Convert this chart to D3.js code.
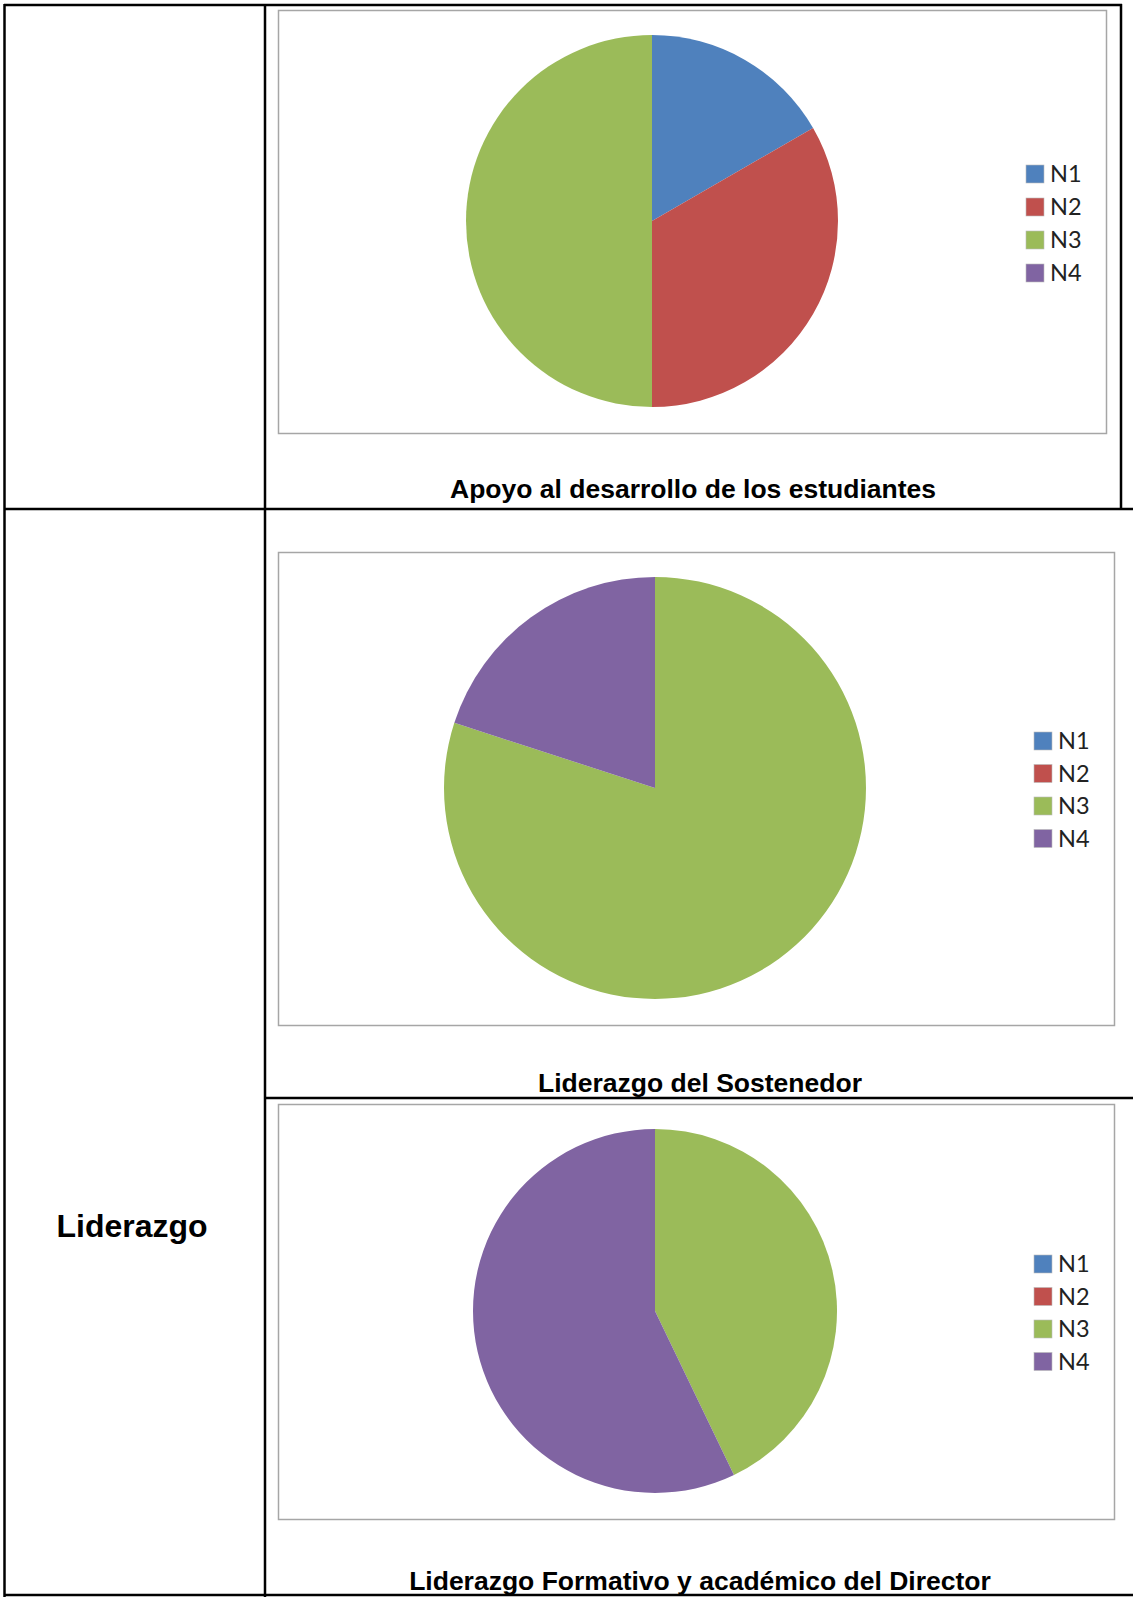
<!DOCTYPE html>
<html>
<head>
<meta charset="utf-8">
<title>Liderazgo</title>
<script src="https://cdn.jsdelivr.net/npm/d3@7"></script>
<style>
  html, body { margin: 0; padding: 0; background: #fff; }
  #chart_table { width: 1133px; height: 1598px; }
  .legend-label { font-family: Lato, 'Open Sans', sans-serif; font-size: 23.5px; fill: #222; }
  .cell-title { font-family: 'Liberation Sans', Arial, sans-serif; font-weight: bold; font-size: 26.5px; fill: #000; }
  .row-label { font-family: 'Liberation Sans', Arial, sans-serif; font-weight: bold; font-size: 32px; fill: #000; }
</style>
</head>
<body>
<div id="chart_table"></div>
<script>
const categories = ['N1', 'N2', 'N3', 'N4'];
const colors = ['#4F81BD', '#C0504D', '#9BBB59', '#8064A2'];

const apoyoValues = [1, 2, 3, 0];
const sostenedorValues = [0, 0, 4, 1];
const directorValues = [0, 0, 3, 4];

const titles = [
  'Apoyo al desarrollo de los estudiantes',
  'Liderazgo del Sostenedor',
  'Liderazgo Formativo y académico del Director',
];
const rowLabel = 'Liderazgo';

const main = () => {
  const svg = d3.select('#chart_table').append('svg')
    .attr('width', 1133)
    .attr('height', 1598)
    .attr('viewBox', '0 0 1133 1598')
  ;

  // chart panels
  const panels = [
    { values: apoyoValues, title: titles[0],
      box: { x: 278, y: 10, w: 828, h: 423 },
      cx: 652, cy: 221, r: 186,
      legend: { x: 1026, y: 165, step: 33 },
      titleX: 693, titleY: 498 },
    { values: sostenedorValues, title: titles[1],
      box: { x: 278, y: 552, w: 836, h: 473 },
      cx: 655, cy: 788, r: 211,
      legend: { x: 1034, y: 732, step: 32.5 },
      titleX: 700, titleY: 1092 },
    { values: directorValues, title: titles[2],
      box: { x: 278, y: 1104, w: 836, h: 415 },
      cx: 655, cy: 1311, r: 182,
      legend: { x: 1034, y: 1255, step: 32.5 },
      titleX: 700, titleY: 1590 },
  ];

  panels.forEach(p => drawPie(svg, p));
  drawTable(svg);
};

function drawPie(svg, p) {
  const g = svg.append('g').attr('class', 'panel');

  g.append('rect')
    .attr('x', p.box.x + 0.5)
    .attr('y', p.box.y + 0.5)
    .attr('width', p.box.w)
    .attr('height', p.box.h)
    .attr('fill', '#fff')
    .attr('stroke', '#a6a6a6')
    .attr('stroke-width', 1.5)
  ;

  const color = d3.scaleOrdinal()
    .domain(categories)
    .range(colors)
  ;

  const pie = d3.pie()
    .sort(null)
    .value(d => d.value)
  ;
  const arc = d3.arc()
    .innerRadius(0)
    .outerRadius(p.r)
  ;

  const data = categories.map((c, i) => ({ name: c, value: p.values[i] }));

  g.append('g')
    .attr('transform', `translate(${ p.cx },${ p.cy })`)
    .selectAll('path')
    .data(pie(data).filter(d => d.value > 0))
    .join('path')
    .attr('fill', d => color(d.data.name))
    .attr('d', arc)
  ;

  // legend
  const legendY = d3.scalePoint()
    .domain(categories)
    .range([p.legend.y, p.legend.y + p.legend.step * (categories.length - 1)])
  ;

  const item = g.append('g')
    .selectAll('g')
    .data(categories)
    .join('g')
    .attr('transform', d => `translate(${ p.legend.x },${ legendY(d) })`)
  ;

  item.append('rect')
    .attr('width', 18)
    .attr('height', 18)
    .attr('fill', d => color(d))
    .attr('stroke', '#bbb')
    .attr('stroke-width', 0.6)
  ;

  item.append('text')
    .attr('class', 'legend-label')
    .attr('x', 24)
    .attr('y', 9)
    .attr('dy', '0.36em')
    .text(d => d)
  ;

  svg.append('text')
    .attr('class', 'cell-title')
    .attr('x', p.titleX)
    .attr('y', p.titleY)
    .attr('text-anchor', 'middle')
    .text(p.title)
  ;
}

function drawTable(svg) {
  const lines = [
    [4, 5, 1122, 5],
    [4.5, 4, 4.5, 1597],
    [265, 4, 265, 1597],
    [1121, 4, 1121, 509],
    [4, 509, 1133, 509],
    [265, 1098, 1133, 1098],
    [4, 1595, 1133, 1595],
  ];

  svg.append('g')
    .attr('class', 'table-lines')
    .selectAll('line')
    .data(lines)
    .join('line')
    .attr('x1', d => d[0])
    .attr('y1', d => d[1])
    .attr('x2', d => d[2])
    .attr('y2', d => d[3])
    .attr('stroke', '#000')
    .attr('stroke-width', 2.5)
  ;

  svg.append('text')
    .attr('class', 'row-label')
    .attr('x', 132)
    .attr('y', 1237)
    .attr('text-anchor', 'middle')
    .text(rowLabel)
  ;
}

main();
</script>
</body>
</html>
